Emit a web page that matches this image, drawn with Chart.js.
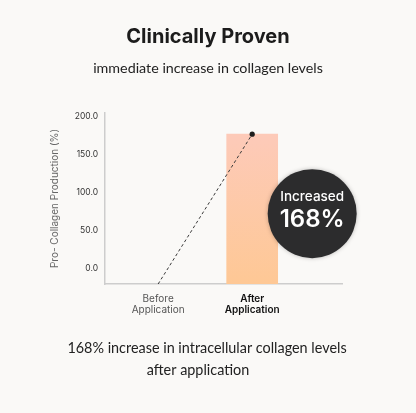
<!DOCTYPE html>
<html>
<head>
<meta charset="utf-8">
<script src="https://cdn.jsdelivr.net/npm/chart.js@4.4.0/dist/chart.umd.min.js"></script>
<style>
  html, body { margin: 0; padding: 0; background: #faf9f7; }
  #wrap { width: 416px; height: 413px; }
</style>
</head>
<body>
<div id="wrap"><canvas id="chart"></canvas></div>
<script>
// chart data
var categories = [["Before", "Application"], ["After", "Application"]];
var barValues = [null, 177];
var lineValues = [-21, 177];
var yTicks = [0, 50, 100, 150, 200];
var yMin = -21;
var yMax = 205;
var titleText = "Clinically Proven";
var subtitleText = "immediate increase in collagen levels";
var badgeText = ["Increased", "168%"];
var footerText = ["168% increase in intracellular collagen levels", "after application"];

var ctx = document.getElementById("chart");

var barData = [];
var lineData = [];
for (var i = 0; i < categories.length; i++) {
    barData.push({ x: i, y: barValues[i] });
    lineData.push({ x: i, y: lineValues[i] });
}

var bgPlugin = {
    id: "bg",
    beforeDraw: function(chart) {
        var c = chart.ctx;
        c.save();
        c.fillStyle = "#faf9f7";
        c.fillRect(0, 0, chart.width, chart.height);
        c.restore();
    }
};

// headings, dark round badge next to the bar, caption under the chart
var extrasPlugin = {
    id: "extras",
    afterDraw: function(chart) {
        var c = chart.ctx;
        var xs = chart.scales.x;
        var ys = chart.scales.y;
        c.save();
        c.textAlign = "center";
        c.textBaseline = "middle";

        c.fillStyle = "#1c1c1c";
        c.font = "700 20px Inter";
        c.fillText(titleText, 208, 37);
        c.fillStyle = "#222222";
        c.font = "14.3px Lato";
        c.fillText(subtitleText, 208, 68);

        var cx = xs.getPixelForValue(1) + 60;
        var cy = ys.getPixelForValue(72);
        c.shadowColor = "rgba(0,0,0,0.25)";
        c.shadowBlur = 4;
        c.beginPath();
        c.arc(cx, cy, 44.5, 0, Math.PI * 2);
        c.fillStyle = "#2c2c2d";
        c.fill();
        c.shadowBlur = 0;
        c.fillStyle = "#ffffff";
        c.font = "500 13.5px Inter";
        c.fillText(badgeText[0], cx, cy - 17);
        c.font = "600 24px Inter";
        c.fillText(badgeText[1], cx, cy + 6);

        c.fillStyle = "#222222";
        c.font = "14.4px Lato";
        c.fillText(footerText[0], 207, 348);
        c.fillText(footerText[1], 198, 370);
        c.restore();
    }
};

new Chart(ctx, {
    type: "bar",
    data: {
        datasets: [{
            type: "line",
            data: lineData,
            borderColor: "#3a3a3a",
            borderWidth: 1,
            borderDash: [3, 2.5],
            pointRadius: [0, 2.6],
            pointBackgroundColor: "#1e1e1e",
            pointBorderWidth: 0,
            clip: false,
            order: 0
        }, {
            data: barData,
            base: yMin,
            barThickness: 51,
            backgroundColor: function(context) {
                var area = context.chart.chartArea;
                if (!area) return "#fdc9a8";
                var g = context.chart.ctx.createLinearGradient(0, area.top, 0, area.bottom);
                g.addColorStop(0, "#fdcab9");
                g.addColorStop(0.15, "#fdcab8");
                g.addColorStop(1, "#fec895");
                return g;
            },
            order: 1
        }]
    },
    options: {
        responsive: true,
        maintainAspectRatio: false,
        animation: false,
        layout: {
            padding: { left: 40, right: 74, bottom: 89, top: 113 }
        },
        plugins: {
            legend: { display: false },
            tooltip: { enabled: false },
            title: { display: false },
            subtitle: { display: false }
        },
        scales: {
            x: {
                type: "linear",
                offset: false,
                min: -0.565,
                max: 1.955,
                grid: { display: false, drawTicks: false, offset: false },
                border: { color: "#cdcdcd", width: 1.5 },
                afterBuildTicks: function(scale) {
                    scale.ticks = categories.map(function(c, i) { return { value: i }; });
                },
                afterFit: function(scale) { scale.height = 40; },
                ticks: {
                    padding: 9,
                    maxRotation: 0,
                    autoSkip: false,
                    callback: function(value) { return categories[value]; },
                    color: function(c) { return c.index === 1 ? "#111111" : "#555555"; },
                    font: function(c) {
                        return c.index === 1
                            ? { family: "Inter", size: 10, weight: "600", lineHeight: 1.1 }
                            : { family: "Inter", size: 10, weight: "400", lineHeight: 1.1 };
                    }
                }
            },
            y: {
                min: yMin,
                max: yMax,
                grid: { display: false, drawTicks: false },
                border: { color: "#cdcdcd", width: 1.5 },
                afterBuildTicks: function(scale) {
                    scale.ticks = yTicks.map(function(v) { return { value: v }; });
                },
                afterFit: function(scale) { scale.width = 65; },
                ticks: {
                    padding: 7,
                    color: "#333333",
                    font: { family: "Inter", size: 8.5 },
                    callback: function(value) { return value.toFixed(1); }
                },
                title: {
                    display: true,
                    text: "Pro- Collagen Production (%)",
                    color: "#666666",
                    font: { family: "Inter", size: 10 },
                    padding: { top: 9, bottom: 0 }
                }
            }
        }
    },
    plugins: [bgPlugin, extrasPlugin]
});
</script>
</body>
</html>
